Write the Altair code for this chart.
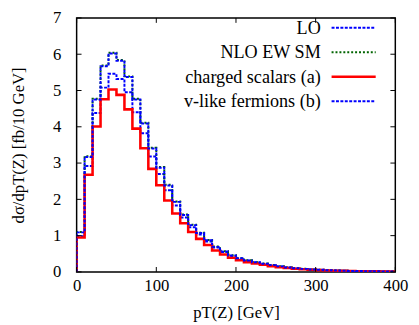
import altair as alt
import pandas as pd

# bin width 10 GeV, bins from 0 to 400 GeV
bin_width = 10
x_ticks = [0, 100, 200, 300, 400]
y_ticks = [0, 1, 2, 3, 4, 5, 6, 7]

series_names = ["LO", "NLO EW SM", "charged scalars (a)", "v-like fermions (b)"]

lo = [0.98, 2.92, 4.38, 5.08, 5.46, 5.32, 4.95, 4.40, 3.82, 3.18,
      2.70, 2.25, 1.83, 1.50, 1.23, 1.03, 0.84, 0.67, 0.55, 0.44,
      0.36, 0.305, 0.26, 0.22, 0.18, 0.148, 0.12, 0.096, 0.082, 0.067,
      0.056, 0.046, 0.038, 0.032, 0.027, 0.023, 0.019, 0.016, 0.013, 0.011]

nlo = [1.10, 3.19, 4.77, 5.69, 6.04, 5.84, 5.39, 4.77, 4.11, 3.42,
       2.89, 2.40, 1.94, 1.58, 1.30, 1.08, 0.88, 0.70, 0.57, 0.46,
       0.38, 0.32, 0.27, 0.23, 0.19, 0.155, 0.125, 0.10, 0.085, 0.07,
       0.058, 0.048, 0.04, 0.034, 0.028, 0.024, 0.02, 0.017, 0.014, 0.012]

charged = [0.95, 2.68, 4.01, 4.76, 5.03, 4.88, 4.48, 3.95, 3.41, 2.84,
           2.39, 1.97, 1.61, 1.34, 1.10, 0.91, 0.74, 0.59, 0.48, 0.39,
           0.32, 0.27, 0.23, 0.195, 0.16, 0.13, 0.105, 0.085, 0.072, 0.06,
           0.049, 0.041, 0.034, 0.029, 0.024, 0.02, 0.017, 0.014, 0.012, 0.01]

vlike = [1.09, 3.17, 4.75, 5.67, 6.02, 5.82, 5.37, 4.75, 4.09, 3.40,
         2.87, 2.38, 1.93, 1.57, 1.29, 1.07, 0.87, 0.69, 0.565, 0.455,
         0.375, 0.315, 0.265, 0.225, 0.187, 0.152, 0.123, 0.099, 0.084, 0.069,
         0.057, 0.047, 0.039, 0.033, 0.027, 0.023, 0.019, 0.016, 0.013, 0.011]

W, H = 325, 259
FONT = "Liberation Serif"

xscale = alt.Scale(domain=[0, 400], nice=False, zero=False)
yscale = alt.Scale(domain=[0, 7], nice=False, zero=True)

axis_common = dict(ticks=False, domain=False, grid=False, labelFlush=False,
                   labelOverlap=False, labelFont=FONT, titleFont=FONT,
                   labelFontSize=17, titleFontSize=17, labelColor="#000000",
                   titleColor="#000000", titleFontWeight="normal")
x_axis = alt.Axis(values=x_ticks, title="pT(Z)  [GeV]", labelPadding=6,
                  titlePadding=12, **axis_common)
y_axis = alt.Axis(values=y_ticks, title="dσ/dpT(Z) [fb/10 GeV]", labelPadding=16,
                  titlePadding=26, **axis_common)


def steps(vals):
    n = len(vals)
    xs = [0] + [i * bin_width for i in range(n)] + [n * bin_width]
    ys = [0] + list(vals) + [vals[-1]]
    return pd.DataFrame({"x": xs, "y": ys, "o": list(range(len(xs)))})


styles = [
    (lo, "#0000ff", [3, 1.5], 2),
    (nlo, "#006400", [2, 2], 2),
    (charged, "#ff0000", [1, 0], 2.6),
    (vlike, "#0000ff", [3, 1.5], 2),
]

layers = []
for vals, col, dash, sw in styles:
    layers.append(alt.Chart(steps(vals)).mark_line(
        interpolate="step-after", color=col, strokeWidth=sw, strokeDash=dash, clip=True
    ).encode(
        x=alt.X("x:Q", scale=xscale, axis=x_axis),
        y=alt.Y("y:Q", scale=yscale, axis=y_axis),
        order="o:Q",
    ))

# inward tick marks on all four sides
xt = pd.DataFrame({"x": x_ticks})
yt = pd.DataFrame({"y": y_ticks})
tick_color = "#000000"
layers.append(alt.Chart(xt).mark_rule(color=tick_color, strokeWidth=1).encode(
    x=alt.X("x:Q", scale=xscale, axis=x_axis), y=alt.value(H), y2=alt.value(H - 5)))
layers.append(alt.Chart(xt).mark_rule(color=tick_color, strokeWidth=1).encode(
    x=alt.X("x:Q", scale=xscale, axis=x_axis), y=alt.value(0), y2=alt.value(5)))
layers.append(alt.Chart(yt).mark_rule(color=tick_color, strokeWidth=1).encode(
    y=alt.Y("y:Q", scale=yscale, axis=y_axis), x=alt.value(0), x2=alt.value(5)))
layers.append(alt.Chart(yt).mark_rule(color=tick_color, strokeWidth=1).encode(
    y=alt.Y("y:Q", scale=yscale, axis=y_axis), x=alt.value(W), x2=alt.value(W - 5)))

# legend (gnuplot-style: text on the left, line sample on the right)
leg_y = [10, 35, 60, 85]
for name, (vals, col, dash, sw), ly in zip(series_names, styles, leg_y):
    ldf = pd.DataFrame({"label": [name]})
    layers.append(alt.Chart(ldf).mark_rule(color=col, strokeWidth=sw, strokeDash=dash).encode(
        x=alt.value(260), x2=alt.value(305), y=alt.value(ly)))
    layers.append(alt.Chart(ldf).mark_text(align="right", baseline="middle", font=FONT,
                                           fontSize=18.5, color="#000000").encode(
        text="label:N", x=alt.value(249), y=alt.value(ly)))

chart = alt.layer(*layers).properties(
    width=W, height=H,
    background="#ffffff",
    autosize=alt.AutoSizeParams(type="none"),
    padding={"left": 70, "top": 7, "right": 16, "bottom": 51},
).configure_view(stroke="#000000", strokeWidth=1.5)

chart.save("out.html", embed_options={"renderer": "svg", "actions": False})
